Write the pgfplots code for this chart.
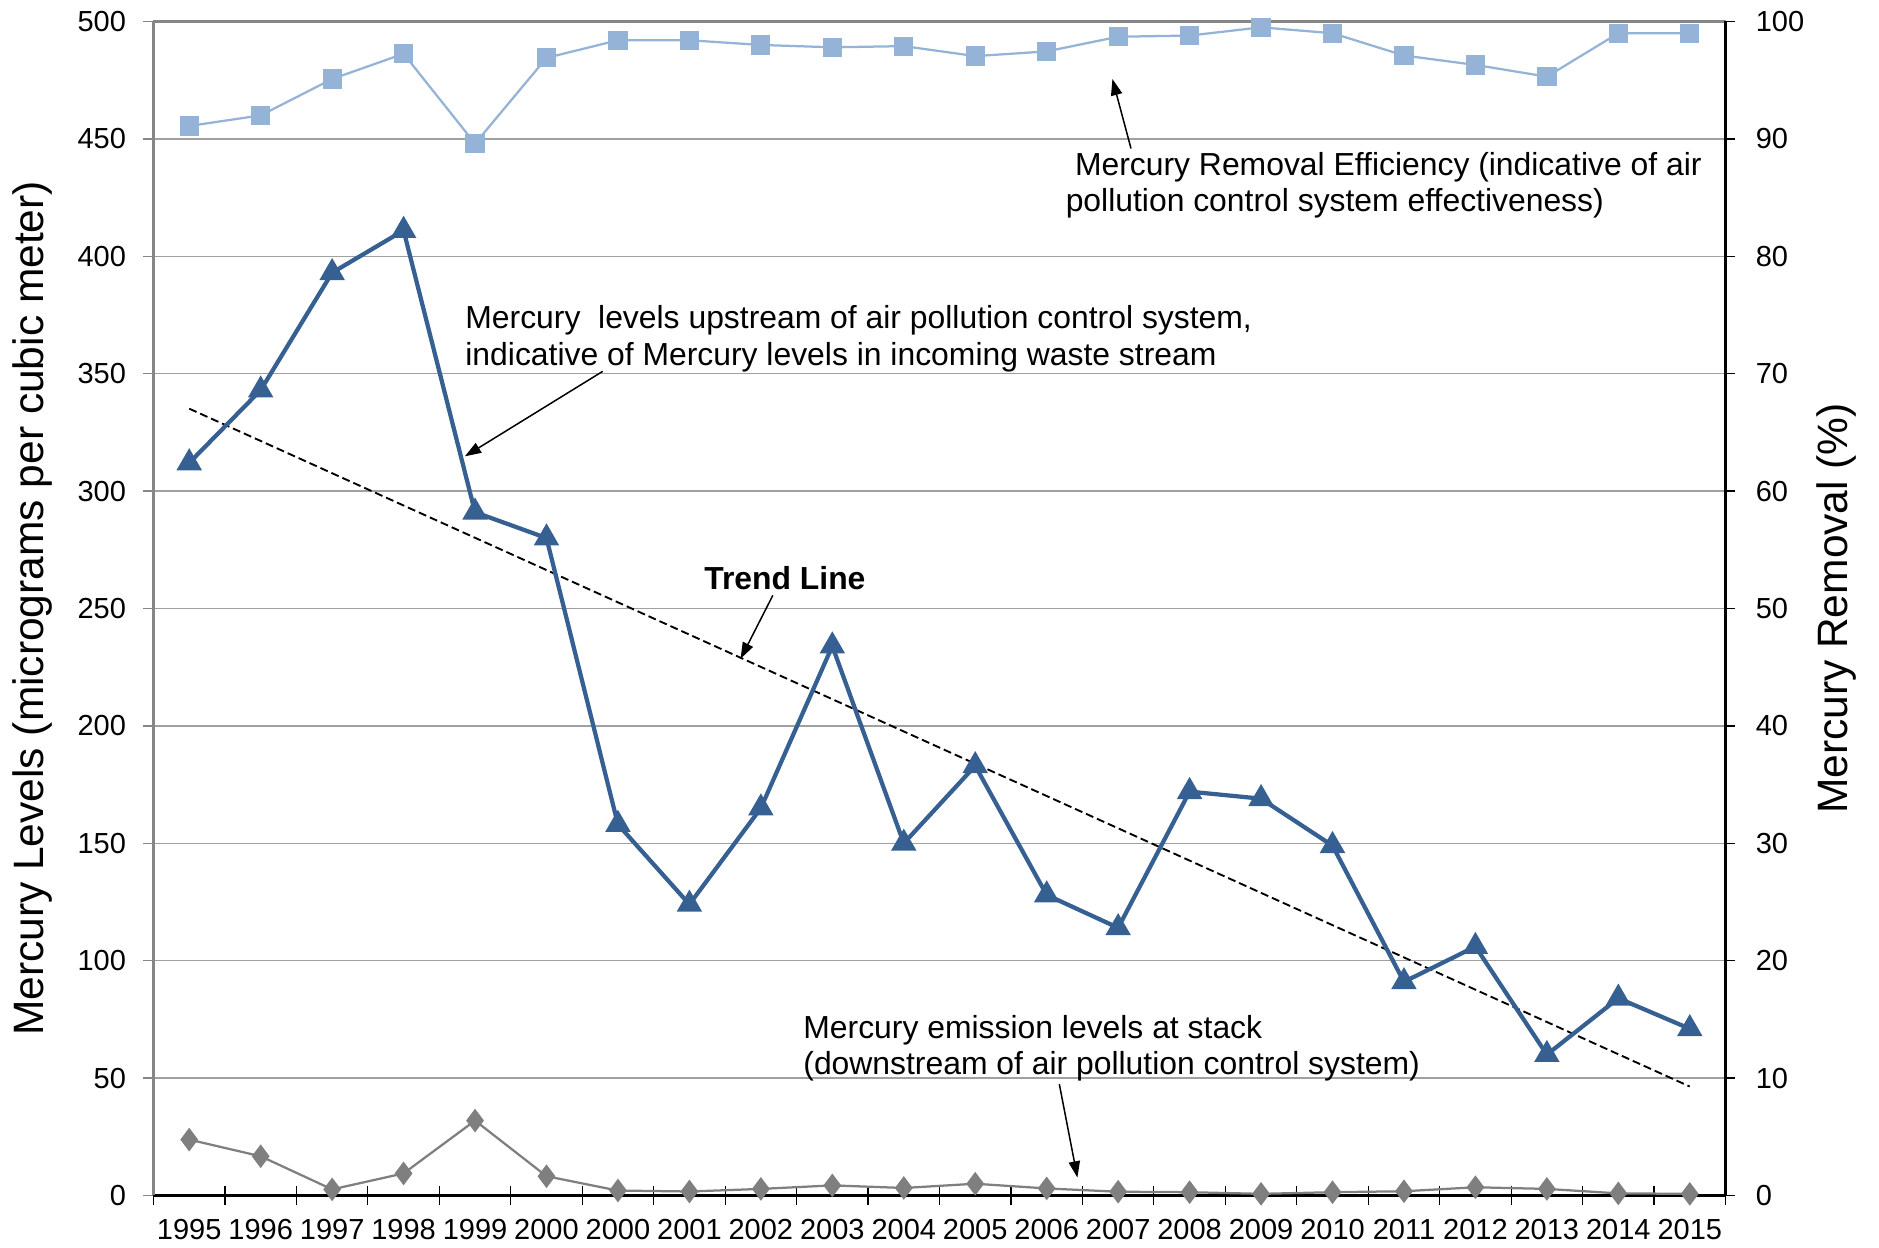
\documentclass[border=0pt]{standalone}
\usepackage{fontspec}
\setmainfont{Liberation Sans}
\usepackage{pgfplots}
\usepackage{pgfplotstable}
\pgfplotsset{compat=1.18}
\usetikzlibrary{arrows.meta,calc}
\definecolor{upblue}{HTML}{376092}
\definecolor{remblue}{HTML}{95B3D7}
\definecolor{stackgray}{HTML}{7F7F7F}
\definecolor{gridgray}{HTML}{A0A0A0}
\definecolor{axgray}{HTML}{868686}

\pgfplotstableread{
x  up   rem   stack
0  312  91.1  23.8
1  343  92.0  16.7
2  393  95.1  2.6
3  411  97.25 9.4
4  291  89.6  31.9
5  280  96.9  8.2
6  158  98.4  2.1
7  124  98.4  1.7
8  165  98.0  2.8
9  234  97.8  4.3
10 150  97.9  3.2
11 183  97.05 5.0
12 128  97.45 3.0
13 114  98.7  1.6
14 172  98.8  1.4
15 169  99.5  0.7
16 149  99.0  1.4
17 91   97.1  1.8
18 106  96.3  3.5
19 60   95.3  2.8
20 84   99.0  0.9
21 71   99.0  0.7
}\data

\begin{document}
\begin{tikzpicture}
\pgfplotsset{
  base/.style={
    width=628.8pt, height=469.6pt, scale only axis,
    xmin=-0.5, xmax=21.5, ymin=0,
    /pgf/number format/assume math mode=true,
    tick label style={font=\fontsize{11.6}{13}\selectfont},
    clip=false,
  }
}
\begin{axis}[base, ymax=500,
  axis x line*=bottom, axis y line*=left,
  x axis line style={black, line width=0.9pt, -},
  y axis line style={axgray, line width=0.9pt, -},
  ytick={0,50,...,500},
  ymajorgrids, grid style={gridgray, line width=0.6pt},
  xtick={0,...,21},
  xticklabels={1995,1996,1997,1998,1999,2000,2000,2001,2002,2003,2004,2005,2006,2007,2008,2009,2010,2011,2012,2013,2014,2015},
  minor xtick={-0.5,0.5,...,21.5},
  tick align=outside, major tick length=4pt, minor tick length=7.6pt,
  major x tick style={draw=none},
  minor x tick style={black, line width=0.5pt, yshift=3.8pt},
  ytick style={axgray, line width=0.6pt},
  xticklabel style={yshift=-2pt},
  yticklabel style={xshift=-3.5pt},
  every axis y label/.style={at={(axis description cs:-0.077,0.5)}, rotate=90, anchor=center, font=\fontsize{17}{20}\selectfont},
  ylabel={Mercury Levels (micrograms per cubic meter)},
]
\draw[axgray, line width=1pt] (rel axis cs:0,1) -- (rel axis cs:1,1);
\addplot[black, line width=0.75pt, dash pattern=on 3.2pt off 1.6pt] coordinates {(0,335.1) (21,46.4)};
\addplot[stackgray, line width=0.9pt, mark=diamond*, mark size=4pt, mark options={solid, fill=stackgray, draw=stackgray}] table[x=x, y=stack] {\data};
\addplot[upblue, line width=1.7pt, mark=triangle*, mark size=4.2pt, mark options={solid, fill=upblue, draw=upblue}] table[x=x, y=up] {\data};

% annotations
\begin{scope}[font=\fontsize{12.75}{14}\selectfont]
\node[anchor=base west, inner sep=0pt] at (axis cs:12.39,434.2) {Mercury Removal Efficiency (indicative of air};
\node[anchor=base west, inner sep=0pt] at (axis cs:12.26,418.9) {pollution control system effectiveness)};
\node[anchor=base west, inner sep=0pt] at (axis cs:3.858,369.4) {Mercury~ levels upstream of air pollution control system,};
\node[anchor=base west, inner sep=0pt] at (axis cs:3.858,353.6) {indicative of Mercury levels in incoming waste stream};
\node[anchor=center, inner sep=0pt, font=\fontsize{12.75}{14}\selectfont\bfseries] at (axis cs:8.336,262.8) {Trend Line};
\node[anchor=base west, inner sep=0pt] at (axis cs:8.588,66.8) {Mercury emission levels at stack};
\node[anchor=base west, inner sep=0pt] at (axis cs:8.588,51.5) {(downstream of air pollution control system)};
\end{scope}
\draw[black, line width=0.6pt, -{Triangle[length=6.5pt,width=4.5pt]}] (axis cs:13.18,445.9) -- (axis cs:12.92,475.5);
\draw[black, line width=0.6pt, -{Triangle[length=6.5pt,width=4.5pt]}] (axis cs:5.787,351.0) -- (axis cs:3.858,314.8);
\draw[black, line width=0.6pt, -{Triangle[length=6.5pt,width=4.5pt]}] (axis cs:8.168,255.6) -- (axis cs:7.716,228.6);
\draw[black, line width=0.6pt, -{Triangle[length=6.5pt,width=4.5pt]}] (axis cs:12.177,47.4) -- (axis cs:12.43,7.65);
\end{axis}

\begin{axis}[base, ymax=100,
  axis y line*=right, axis x line=none,
  y axis line style={black, line width=0.9pt, -},
  ytick={0,10,...,100},
  tick align=outside, major tick length=3.6pt,
  ytick style={black, line width=0.6pt},
  yticklabel style={xshift=5pt},
  every axis y label/.style={at={(axis description cs:1.0709,0.5)}, rotate=90, anchor=center, font=\fontsize{17}{20}\selectfont},
  ylabel={Mercury Removal (\%)},
]
\addplot[remblue, line width=0.9pt, mark=square*, mark size=3.4pt, mark options={solid, fill=remblue, draw=remblue}] table[x=x, y=rem] {\data};
\end{axis}

\pgfresetboundingbox
\path ($(current axis.south west)+(-61.4pt,-21pt)$) rectangle ($(current axis.north east)+(61.4pt,8.6pt)$);
\end{tikzpicture}
\end{document}
